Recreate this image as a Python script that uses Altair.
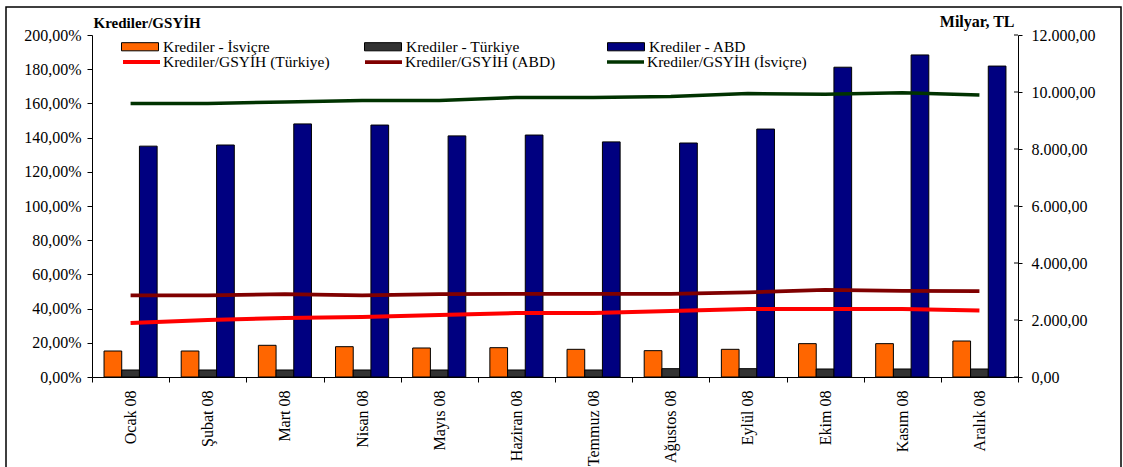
import altair as alt
import pandas as pd

# Months of 2008
months = ["Ocak 08", "Şubat 08", "Mart 08", "Nisan 08", "Mayıs 08", "Haziran 08",
          "Temmuz 08", "Ağustos 08", "Eylül 08", "Ekim 08", "Kasım 08", "Aralık 08"]

# Credit volumes, billion TL (right axis)
bar_names = ["Krediler - İsviçre", "Krediler - Türkiye", "Krediler - ABD"]
kredi_isvicre = [912, 912, 1112, 1064, 1018, 1029, 971, 924, 971, 1170, 1170, 1263]
kredi_turkiye = [246, 246, 246, 246, 246, 246, 246, 292, 292, 281, 281, 281]
kredi_abd = [8100, 8140, 8880, 8840, 8460, 8490, 8250, 8210, 8700, 10870, 11300, 10910]

# Credit / GDP ratios, percent (left axis)
line_names = ["Krediler/GSYİH (Türkiye)", "Krediler/GSYİH (ABD)", "Krediler/GSYİH (İsviçre)"]
oran_turkiye = [31.6, 33.3, 34.5, 35.1, 36.3, 37.4, 37.4, 38.6, 39.8, 39.8, 39.8, 38.9]
oran_abd = [47.8, 47.8, 48.5, 47.8, 48.5, 48.6, 48.6, 48.6, 49.5, 50.9, 50.3, 50.2]
oran_isvicre = [160.0, 160.0, 160.8, 161.7, 161.7, 163.5, 163.5, 164.0, 165.8, 165.3, 166.3, 164.9]

# Axis tick values
right_ticks = list(range(0, 12001, 2000))
left_ticks = list(range(0, 201, 20))

bar_colors = ["#FF6600", "#333333", "#000080"]
line_colors = ["#FF0000", "#800000", "#003300"]
line_widths = [4, 3.5, 3]

bars_df = pd.DataFrame(
    [{"ay": m, "seri": s, "deger": v}
     for s, vals in zip(bar_names, [kredi_isvicre, kredi_turkiye, kredi_abd])
     for m, v in zip(months, vals)]
)
lines_df = pd.DataFrame(
    [{"ay": m, "seri": s, "oran": v}
     for s, vals in zip(line_names, [oran_turkiye, oran_abd, oran_isvicre])
     for m, v in zip(months, vals)]
)

FONT = "Liberation Serif"
W, H = 926, 342

x_enc = alt.X(
    "ay:N", sort=months, title=None,
    scale=alt.Scale(domain=months, paddingInner=0, paddingOuter=0),
    axis=alt.Axis(labelAngle=-90, tickBand="extent", tickSize=5, labelPadding=8,
                  labelFontSize=16, labelFont=FONT, domainColor="black",
                  tickColor="black", labelColor="black"),
)

right_axis = alt.Axis(orient="right", values=right_ticks,
                      format=",.2f", tickSize=4, labelPadding=9,
                      labelFontSize=16, labelFont=FONT, labelColor="black",
                      domainColor="black", tickColor="black", grid=False,
                      title="Milyar, TL", titleAngle=0, titleAlign="right",
                      titleBaseline="alphabetic", titleX=-4, titleY=-9,
                      titleFont=FONT, titleFontSize=16, titleFontWeight="bold",
                      titleColor="black")
right_scale = alt.Scale(domain=[0, 12000], nice=False)

bars = alt.Chart(bars_df).mark_bar(stroke="black", strokeWidth=1).encode(
    x=x_enc,
    xOffset=alt.XOffset("seri:N", sort=bar_names,
                        scale=alt.Scale(domain=bar_names, paddingInner=0, paddingOuter=0.68)),
    y=alt.Y("deger:Q", scale=right_scale, axis=right_axis),
    fill=alt.Fill("seri:N", sort=bar_names,
                  scale=alt.Scale(domain=bar_names, range=bar_colors),
                  legend=alt.Legend(orient="none", legendX=29, legendY=-7.5,
                                    direction="horizontal", columns=3, title=None,
                                    symbolType="M-1,-0.22H1V0.22H-1Z", symbolSize=1369,
                                    symbolStrokeColor="black", symbolStrokeWidth=1,
                                    labelFont=FONT, labelFontSize=15.5, labelColor="black",
                                    labelOffset=4, labelLimit=300, columnPadding=85,
                                    gridAlign="all", padding=0, rowPadding=0)),
)

# Inner half of the right-axis ticks, so they cross the axis line
inner_ticks = alt.Chart(pd.DataFrame({"deger": right_ticks})).mark_rule(
    color="black", strokeWidth=1
).encode(
    y=alt.Y("deger:Q", scale=right_scale, axis=right_axis),
    x=alt.value(W - 4), x2=alt.value(W),
)

lines = alt.Chart(lines_df).mark_line().encode(
    x=alt.X("ay:N", sort=months),
    y=alt.Y("oran:Q",
            scale=alt.Scale(domain=[0, 200], nice=False),
            axis=alt.Axis(orient="left", values=left_ticks,
                          format=".2f", labelExpr="datum.label + '%'",
                          tickSize=5, labelPadding=6,
                          labelFontSize=16, labelFont=FONT, labelColor="black",
                          domainColor="black", tickColor="black", grid=False,
                          title="Krediler/GSYİH", titleAngle=0, titleAlign="left",
                          titleBaseline="alphabetic", titleX=1, titleY=-8,
                          titleFont=FONT, titleFontSize=15, titleFontWeight="bold",
                          titleColor="black")),
    stroke=alt.Stroke("seri:N", sort=line_names,
                      scale=alt.Scale(domain=line_names, range=line_colors),
                      legend=alt.Legend(orient="none", legendX=29, legendY=6.5,
                                        direction="horizontal", columns=3, title=None,
                                        symbolType="stroke", symbolSize=1369,
                                        symbolStrokeWidth=4,
                                        labelFont=FONT, labelFontSize=15.5, labelColor="black",
                                        labelOffset=1, labelLimit=300, columnPadding=27,
                                        gridAlign="all", padding=0, rowPadding=0)),
    strokeWidth=alt.StrokeWidth("seri:N", sort=line_names,
                                scale=alt.Scale(domain=line_names, range=line_widths),
                                legend=None),
)

# Outer frame around the whole figure
frame = alt.Chart(pd.DataFrame({"k": [0]})).mark_rect(
    fill=None, stroke="black", strokeWidth=1.5
).encode(
    x=alt.value(-86), x2=alt.value(1029), y=alt.value(-28), y2=alt.value(440)
)

chart = alt.layer(alt.layer(bars, inner_ticks), lines, frame).resolve_scale(
    y="independent"
).properties(
    width=W, height=H,
    autosize=alt.AutoSizeParams(type="none"),
    padding={"left": 92, "top": 35, "right": 105, "bottom": 90},
).configure(
    font=FONT,
    locale={"number": {"decimal": ",", "thousands": ".", "grouping": [3],
                       "currency": ["", ""]}},
).configure_view(stroke=None)

chart.save("out.html", embed_options={"renderer": "svg", "actions": False})
